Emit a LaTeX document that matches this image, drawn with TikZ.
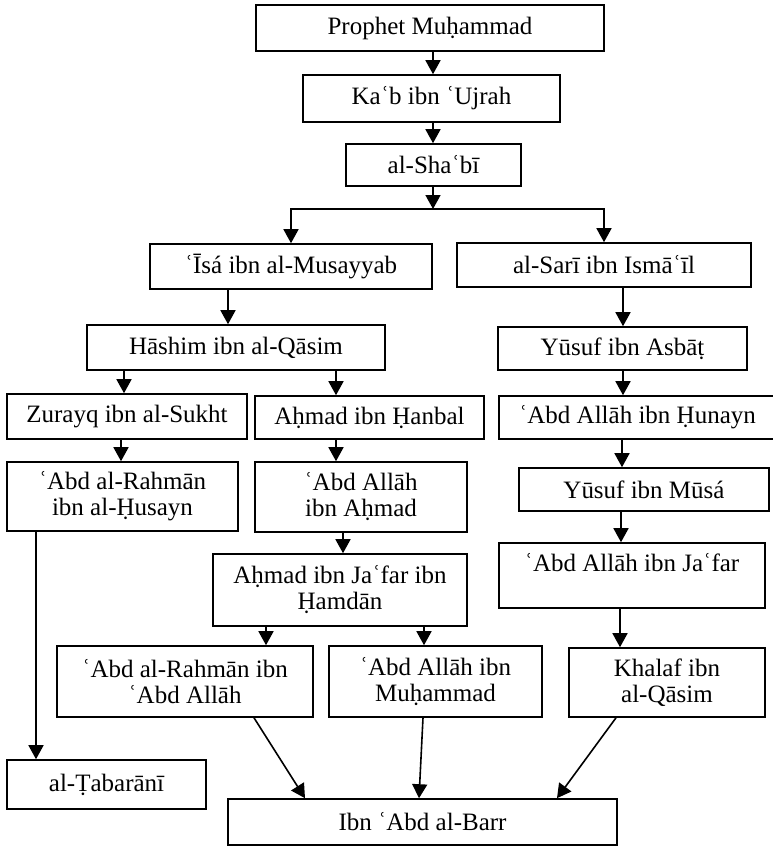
\documentclass[tikz,border=0pt]{standalone}
\usepackage{fontspec}
\setmainfont{Liberation Serif}
\usetikzlibrary{arrows.meta}
\begin{document}
\begin{tikzpicture}[x=1pt,y=-1pt,
  box/.style={draw, line width=1.6pt, inner sep=0pt, align=center,
    font=\fontsize{25}{26}\selectfont},
  arr/.style={line width=1.6pt, -{Triangle[length=14pt,width=15pt]}}]
\useasboundingbox (0,0) rectangle (772,847);
% nodes
\node[box, minimum width=348pt, minimum height=46pt] (pm) at (430,28) {Prophet Muḥammad};
\node[box, minimum width=257pt, minimum height=47pt] (kab) at (431.5,98.5) {Kaʿb ibn ʿUjrah};
\node[box, minimum width=175pt, minimum height=42pt] (shabi) at (433.5,165) {al-Shaʿbī};
\node[box, minimum width=282pt, minimum height=45pt] (isa) at (291,266.5) {ʿĪsá ibn al-Musayyab};
\node[box, minimum width=294pt, minimum height=44pt] (sari) at (604,265) {al-Sarī ibn Ismāʿīl};
\node[box, minimum width=298pt, minimum height=45pt] (hashim) at (236,347.5) {Hāshim ibn al-Qāsim};
\node[box, minimum width=249pt, minimum height=43pt] (asbat) at (622.5,348.5) {Yūsuf ibn Asbāṭ};
\node[box, minimum width=240pt, minimum height=45pt] (zurayq) at (127,416.5) {Zurayq ibn al-Sukht};
\node[box, minimum width=229pt, minimum height=43pt] (hanbal) at (369.5,417.5) {Aḥmad ibn Ḥanbal};
\node[box, minimum width=277pt, minimum height=43pt] (hunayn) at (637.5,417.5) {ʿAbd Allāh ibn Ḥunayn};
\node[box, minimum width=231pt, minimum height=69pt] (husayn) at (122.5,496.5) {ʿAbd al-Rahmān\\ibn al-Ḥusayn};
\node[box, minimum width=212pt, minimum height=70pt] (abdahmad) at (361,497) {ʿAbd Allāh\\ibn Aḥmad};
\node[box, minimum width=250pt, minimum height=43pt] (musa) at (644,489.5) {Yūsuf ibn Mūsá};
\node[box, minimum width=266pt, minimum height=65pt] (jafar) at (632,575.5) {ʿAbd Allāh ibn Jaʿfar\\\mbox{}};
\node[box, minimum width=254pt, minimum height=72pt] (hamdan) at (340,590) {Aḥmad ibn Jaʿfar ibn\\Ḥamdān};
\node[box, minimum width=256pt, minimum height=71pt] (rahman2) at (185,681.5) {ʿAbd al-Rahmān ibn\\ʿAbd Allāh};
\node[box, minimum width=213pt, minimum height=71pt] (muhammad2) at (435.5,681.5) {ʿAbd Allāh ibn\\Muḥammad};
\node[box, minimum width=196pt, minimum height=69pt] (khalaf) at (667,682.5) {Khalaf ibn\\al-Qāsim};
\node[box, minimum width=199pt, minimum height=49pt] (tabarani) at (106.5,784.5) {al-Ṭabarānī};
\node[box, minimum width=389pt, minimum height=46pt] (barr) at (422.5,822) {Ibn ʿAbd al-Barr};
% helper coordinates
\coordinate (j) at (433,209);
\foreach \xx in {36,121,124,228,254,266,305,336,343,419,423,424,557,616,620,621,622,623}
  \coordinate (x\xx) at (\xx,0);
% connectors
\draw[arr] (pm.south -| j) -- (kab.north -| j);
\draw[arr] (kab.south -| j) -- (shabi.north -| j);
\draw[arr] (shabi.south -| j) -- (j);
\draw[arr] (j) -| (isa.north);
\draw[arr] (j) -| (sari.north);
\draw[arr] (isa.south -| x228) -- (hashim.north -| x228);
\draw[arr] (sari.south -| x623) -- (asbat.north -| x623);
\draw[arr] (hashim.south -| x124) -- (zurayq.north -| x124);
\draw[arr] (hashim.south -| x336) -- (hanbal.north -| x336);
\draw[arr] (asbat.south -| x623) -- (hunayn.north -| x623);
\draw[arr] (zurayq.south -| x121) -- (husayn.north -| x121);
\draw[arr] (hanbal.south -| x336) -- (abdahmad.north -| x336);
\draw[arr] (hunayn.south -| x622) -- (musa.north -| x622);
\draw[arr] (husayn.south -| x36) -- (tabarani.north -| x36);
\draw[arr] (abdahmad.south -| x343) -- (hamdan.north -| x343);
\draw[arr] (musa.south -| x621) -- (jafar.north -| x621);
\draw[arr] (hamdan.south -| x266) -- (rahman2.north -| x266);
\draw[arr] (hamdan.south -| x424) -- (muhammad2.north -| x424);
\draw[arr] (jafar.south -| x620) -- (khalaf.north -| x620);
\draw[arr] (rahman2.south -| x254) -- (barr.north -| x305);
\draw[arr] (muhammad2.south -| x423) -- (barr.north -| x419);
\draw[arr] (khalaf.south -| x616) -- (barr.north -| x557);
\end{tikzpicture}
\end{document}
